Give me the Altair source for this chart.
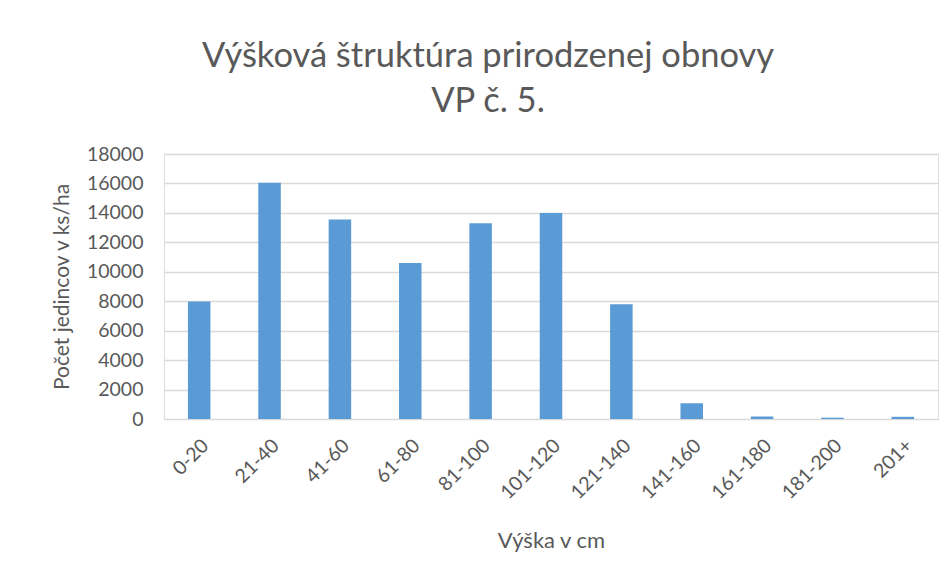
import altair as alt
import pandas as pd

categories = ["0-20", "21-40", "41-60", "61-80", "81-100", "101-120",
              "121-140", "141-160", "161-180", "181-200", "201+"]
values = [7980, 16050, 13550, 10600, 13300, 14000, 7800, 1070, 170, 90, 150]
y_ticks = list(range(0, 18001, 2000))

df = pd.DataFrame({"kat": categories, "pocet": values})

FONT = "Lato"
GREY = "#595959"

chart = alt.Chart(df).mark_bar(color="#5B9BD5").encode(
    x=alt.X("kat:N", sort=categories,
            scale=alt.Scale(paddingInner=0.68, paddingOuter=0.34),
            axis=alt.Axis(title="Výška v cm", labelAngle=-45, labelFontSize=19.5,
                          labelColor=GREY, titleFontSize=22, titleColor=GREY,
                          titleFontWeight="normal", ticks=False, domain=False,
                          labelPadding=17, titlePadding=28, labelFont=FONT,
                          titleFont=FONT)),
    y=alt.Y("pocet:Q", scale=alt.Scale(domain=[0, 18000], nice=False),
            axis=alt.Axis(title="Počet jedincov v ks/ha", values=y_ticks,
                          format="d",
                          labelFontSize=19.5, labelColor=GREY, titleFontSize=21,
                          titleColor=GREY, titleFontWeight="normal",
                          ticks=False, domain=False, labelPadding=21,
                          titlePadding=14, gridColor="#D9D9D9",
                          gridWidth=1.3, labelFont=FONT, titleFont=FONT)),
).properties(
    width=774, height=265,
    title=alt.TitleParams(
        text=["Výšková štruktúra prirodzenej obnovy", "VP č. 5."],
        fontSize=34.5, font=FONT, color=GREY, fontWeight="normal",
        lineHeight=45, anchor="middle", dx=-63, offset=25),
    autosize=alt.AutoSizeParams(type="none"),
    padding={"left": 156, "top": 146, "right": 6, "bottom": 150},
).configure_view(stroke=None).configure(background="white")

chart.save("out.html", embed_options={"renderer": "svg", "actions": False})
